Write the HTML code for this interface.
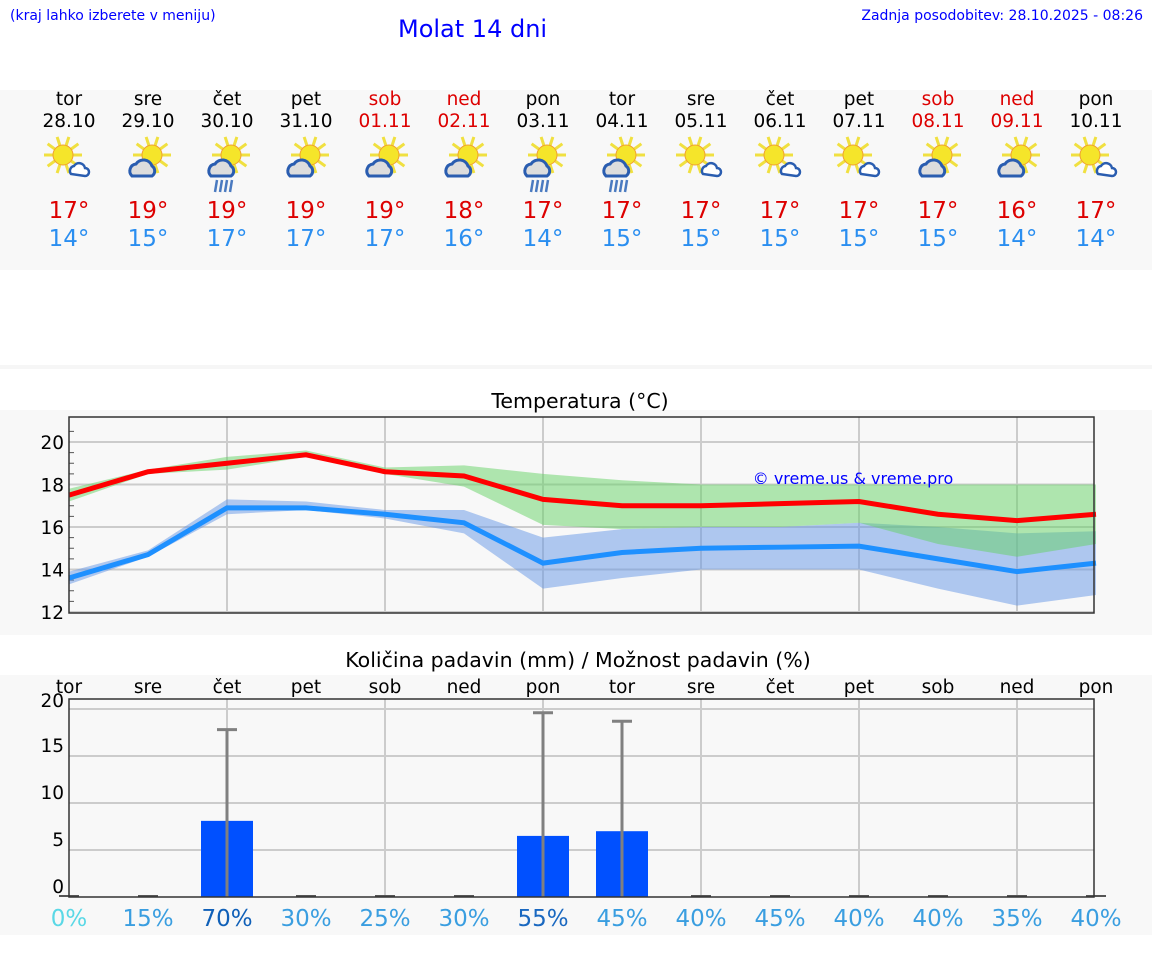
<!DOCTYPE html>
<html><head><meta charset="utf-8"><style>
body{margin:0;width:1152px;height:975px;background:#fff;font-family:"DejaVu Sans","Liberation Sans",sans-serif;position:relative;overflow:hidden}
.a{position:absolute}
.c{position:absolute;text-align:center;width:80px}
</style></head><body>
<div class="a" style="left:10px;top:8px;font-size:14px;color:#00f">(kraj lahko izberete v meniju)</div>
<div class="a" style="left:398px;top:15px;font-size:24px;color:#00f">Molat 14 dni</div>
<div class="a" style="right:9px;top:8px;font-size:14px;color:#00f">Zadnja posodobitev: 28.10.2025 - 08:26</div>
<div class="a" style="left:0;top:90px;width:1152px;height:180px;background:#f8f8f8"></div>
<div class="a" style="left:0;top:365px;width:1152px;height:4px;background:#f6f6f6"></div>
<div class="a" style="left:0;top:410px;width:1152px;height:225px;background:#f8f8f8"></div>
<div class="a" style="left:0;top:675px;width:1152px;height:260px;background:#f8f8f8"></div>
<div id="days"></div>
<svg class="a" style="left:0;top:0" width="1152" height="975" id="svg" font-family="DejaVu Sans, Liberation Sans, sans-serif"></svg>
<script>
const dayNames=["tor","sre","čet","pet","sob","ned","pon","tor","sre","čet","pet","sob","ned","pon"];
const dates=["28.10","29.10","30.10","31.10","01.11","02.11","03.11","04.11","05.11","06.11","07.11","08.11","09.11","10.11"];
const weekend=[0,0,0,0,1,1,0,0,0,0,0,1,1,0];
const icons=["s","c","r","c","c","c","r","sr","s","s","s","c","c","s"];
const tMaxLbl=[17,19,19,19,19,18,17,17,17,17,17,17,16,17];
const tMinLbl=[14,15,17,17,17,16,14,15,15,15,15,15,14,14];
const tMax=[17.5,18.6,19.0,19.4,18.6,18.4,17.3,17.0,17.0,17.1,17.2,16.6,16.3,16.6];
const tMin=[13.6,14.7,16.9,16.9,16.6,16.2,14.3,14.8,15.0,15.05,15.1,14.5,13.9,14.3];
const gHi=[17.8,18.7,19.3,19.6,18.8,18.9,18.5,18.2,18.0,18.0,18.0,18.0,18.0,18.0];
const gLo=[17.2,18.5,18.7,19.3,18.5,17.9,16.1,15.9,16.0,16.0,16.2,15.2,14.6,15.2];
const bHi=[13.9,14.9,17.3,17.2,16.8,16.8,15.5,15.9,16.0,16.0,16.2,16.0,15.7,15.8];
const bLo=[13.3,14.6,16.6,16.8,16.4,15.7,13.1,13.6,14.0,14.0,14.0,13.1,12.3,12.8];
const tTicks=[12,14,16,18,20];
const precip=[0,0,8.1,0,0,0,6.5,7.0,0,0,0,0,0,0];
const precipMax=[0,0,17.8,0,0,0,19.6,18.7,0,0,0,0,0,0];
const chance=[0,15,70,30,25,30,55,45,40,45,40,40,35,40];
const pTicks=[0,5,10,15,20];
const X=i=>69+i*79;
const TY=v=>612-(v-12)*21.25;
const PY=v=>897-v*9.4;
const svg=document.getElementById('svg');
const NS="http://www.w3.org/2000/svg";
function mk(t,a,p){const e=document.createElementNS(NS,t);for(const k in a)e.setAttribute(k,a[k]);(p||svg).appendChild(e);return e;}
const days=document.getElementById('days');
dayNames.forEach((d,i)=>{
 const col=weekend[i]?'#d00':'#000';
 const dn=document.createElement('div');dn.className='c';dn.style.cssText=`left:${X(i)-40}px;top:89px;font-size:18.5px;color:${col};line-height:22px`;
 dn.textContent=d;days.appendChild(dn);
 const dt=document.createElement('div');dt.className='c';dt.style.cssText=`left:${X(i)-40}px;top:111px;font-size:18.5px;color:${col};line-height:22px`;
 dt.textContent=dates[i];days.appendChild(dt);
 const mx=document.createElement('div');mx.className='c';mx.style.cssText=`left:${X(i)-40}px;top:198px;font-size:23px;color:#d00`;
 mx.textContent=tMaxLbl[i]+'°';days.appendChild(mx);
 const mn=document.createElement('div');mn.className='c';mn.style.cssText=`left:${X(i)-40}px;top:226px;font-size:23px;color:#2a8ef0`;
 mn.textContent=tMinLbl[i]+'°';days.appendChild(mn);
 const g=mk('g',{transform:`translate(${X(i)},158)`});
 
 const sx=icons[i]=='s'?-6:4, sy=-3;
 for(let k=0;k<10;k++){const an=k*Math.PI/5;mk('line',{x1:sx+Math.cos(an)*10,y1:sy+Math.sin(an)*10,x2:sx+Math.cos(an)*19,y2:sy+Math.sin(an)*19,stroke:'#f0e040','stroke-width':3},g);}
 mk('circle',{cx:sx,cy:sy,r:10,fill:'#f5e52a',stroke:'#f0a030','stroke-width':1},g);
 if(icons[i]=='s'){mk('path',{d:'M2 16 a5 5 0 0 1 3 -8 a6 6 0 0 1 11 2 a4 4 0 0 1 0 8 z',fill:'#fff',stroke:'#2a5db0','stroke-width':2.5},g);}
 else{mk('path',{d:'M-16 18 a7 7 0 0 1 4 -12 a9 9 0 0 1 16 2 a6 6 0 0 1 0 10 z',fill:'#ddd',stroke:'#2a5db0','stroke-width':3},g);}
 if(icons[i]=='r'||icons[i]=='sr'){for(let k=0;k<4;k++)mk('line',{x1:-12+k*5+2,y1:22,x2:-12+k*5,y2:34,stroke:'#4a7ac0','stroke-width':2.5},g);}
});
mk('text',{x:580,y:408,'text-anchor':'middle','font-size':20.5}).textContent='Temperatura (°C)';
mk('rect',{x:69,y:417,width:1025,height:196,fill:'#f8f8f8'});
tTicks.forEach(v=>{mk('line',{x1:69,x2:1094,y1:TY(v),y2:TY(v),stroke:'#ccc','stroke-width':2});
 const t=mk('text',{x:64,y:TY(v)+7,'text-anchor':'end','font-size':18.5});t.textContent=v;});
for(let v=12.5;v<21;v+=0.5){if(v%2)mk('line',{x1:69,x2:74,y1:TY(v),y2:TY(v),stroke:'#555','stroke-width':1});}
for(let i=2;i<14;i+=2)mk('line',{x1:X(i),x2:X(i),y1:417,y2:613,stroke:'#ccc','stroke-width':2});
function band(hi,lo,col,name){let d='M'+hi.map((v,i)=>X(i)+' '+TY(v)).join(' L')+' L'+lo.map((v,i)=>[i,v]).reverse().map(([i,v])=>X(i)+' '+TY(v)).join(' L')+'Z';const p=mk('path',{d,fill:col});}
band(bHi,bLo,'rgba(100,150,230,0.5)','min-temp-band');
band(gHi,gLo,'rgba(100,210,100,0.5)','max-temp-band');
function line(a,col,name){const p=mk('polyline',{points:a.map((v,i)=>X(i)+','+TY(v)).join(' '),fill:'none',stroke:col,'stroke-width':5});}
line(tMin,'#1e90ff','min-temp-line');line(tMax,'#f00','max-temp-line');
mk('rect',{x:69,y:417,width:1025,height:196,fill:'none',stroke:'#333','stroke-width':1.5});
mk('text',{x:853,y:484,'text-anchor':'middle','font-size':16,fill:'#00f'}).textContent='© vreme.us & vreme.pro';
mk('text',{x:578,y:667,'text-anchor':'middle','font-size':20.5}).textContent='Količina padavin (mm) / Možnost padavin (%)';
pTicks.forEach(v=>{if(v>0)mk('line',{x1:69,x2:1094,y1:PY(v),y2:PY(v),stroke:'#ccc','stroke-width':2});
 const t=mk('text',{x:64,y:Math.max(PY(v)-4,707),'text-anchor':'end','font-size':18.5});t.textContent=v;});
for(let i=2;i<14;i+=2)mk('line',{x1:X(i),x2:X(i),y1:699,y2:897,stroke:'#ccc','stroke-width':2});
dayNames.forEach((d,i)=>{mk('text',{x:X(i),y:693,'text-anchor':'middle','font-size':18.5}).textContent=d;
 if(precip[i]>0){const r=mk('rect',{x:X(i)-26,y:PY(precip[i]),width:52,height:PY(0)-PY(precip[i]),fill:'#0050ff'});
  mk('line',{x1:X(i),x2:X(i),y1:PY(precipMax[i]),y2:PY(0),stroke:'#808080','stroke-width':3});
  mk('line',{x1:X(i)-10,x2:X(i)+10,y1:PY(precipMax[i]),y2:PY(precipMax[i]),stroke:'#808080','stroke-width':3});}
 else mk('line',{x1:X(i)-10,x2:X(i)+10,y1:896,y2:896,stroke:'#555','stroke-width':2});
 const c=chance[i];const col=c==0?'#5ad8e6':c>=70?'#1060b8':c>=55?'#1a68c0':'#3a9ee0';
 const t=mk('text',{x:X(i),y:926,'text-anchor':'middle','font-size':23,fill:col});t.textContent=c+'%';
});
mk('rect',{x:69,y:699,width:1025,height:198,fill:'none',stroke:'#333','stroke-width':1.5});
</script>
</body></html>
